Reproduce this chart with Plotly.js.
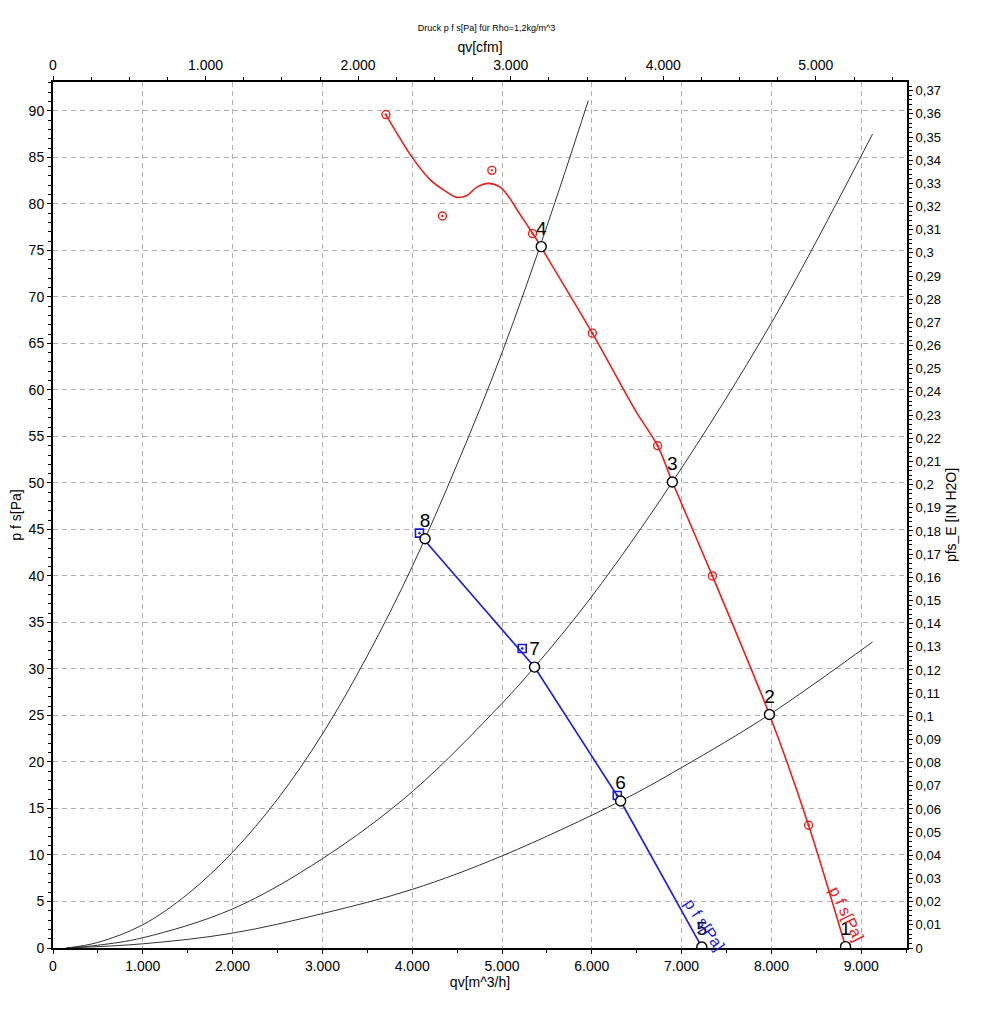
<!DOCTYPE html>
<html>
<head>
<meta charset="utf-8">
<script src="https://cdn.plot.ly/plotly-3.0.1.min.js"></script>
<style>
  body { margin: 0; background: #fff; }
  #chart { width: 983px; height: 1024px; }
</style>
</head>
<body>
<div id="chart"></div>
<script>
// system curves, q in m^3/h, p in Pa
var sysAq = [150, 500, 1000, 1500, 2000, 2500, 3000, 3500, 4000, 4500, 5000, 5500, 5961];
var sysAp = [0, 0.6, 2.5, 5.8, 10.3, 16, 23, 31.4, 41, 52, 64, 77.6, 91.1];
var sysBq = [150, 500, 1000, 2000, 3000, 4000, 5000, 5362, 6000, 6897, 8000, 9126];
var sysBp = [0, 0.3, 1.1, 4.2, 9.6, 16.8, 26.3, 30.2, 37.8, 50.1, 67.2, 87.5];
var sysCq = [150, 1000, 2000, 3000, 4000, 5000, 6321, 7000, 7978, 9126];
var sysCp = [0, 0.45, 1.6, 3.7, 6.3, 9.9, 15.8, 19.4, 25.1, 32.9];

// red fan curve p f s
var redQ = [3706, 3996, 4199, 4348, 4497, 4609, 4720, 4850, 4980, 5073, 5185, 5296, 5390, 5500, 6006, 6485, 6733, 6897, 7343, 7978, 8414, 8826];
var redP = [89.6, 85.05, 82.6, 81.5, 80.7, 80.9, 81.8, 82.2, 81.8, 80.8, 79.1, 77.5, 76.1, 74.3, 66.1, 57.8, 54.0, 50.1, 40.0, 25.1, 13.2, 0.15];
var redMq = [3707, 4337, 4887, 5340, 6006, 6733, 7343, 8414];
var redMp = [89.6, 78.7, 83.6, 76.8, 66.1, 54.0, 40.0, 13.2];

// blue fan curve p f s
var blueQ = [4160, 5362, 6321, 7225];
var blueP = [43.6, 30.2, 15.8, 0.1];
var blueMq = [4081, 5225, 6284];
var blueMp = [44.6, 32.2, 16.4];

// operating points
var opQ = [8826, 7978, 6897, 5437, 7225, 6321, 5362, 4143];
var opP = [0.15, 25.1, 50.1, 75.4, 0.1, 15.8, 30.2, 44.0];
var opLabels = ['1', '2', '3', '4', '5', '6', '7', '8'];

var qMax = 9510;       // m^3/h
var pMax = 93.1;       // Pa
var cfmPerM3h = 1 / 1.699;
var inH2O = 249.089;

var font = 'Liberation Sans, Arial, sans-serif';
var gridDash = '5px,4px';

var data = [
  {x: sysAq, y: sysAp, mode: 'lines', line: {color: '#333', width: 1, shape: 'spline'}, hoverinfo: 'skip'},
  {x: sysBq, y: sysBp, mode: 'lines', line: {color: '#333', width: 1, shape: 'spline'}, hoverinfo: 'skip'},
  {x: sysCq, y: sysCp, mode: 'lines', line: {color: '#333', width: 1, shape: 'spline'}, hoverinfo: 'skip'},
  {x: redQ, y: redP, mode: 'lines', line: {color: '#e8201c', width: 1.6, shape: 'spline', smoothing: 0.8}},
  {x: redMq, y: redMp, mode: 'markers', marker: {symbol: 'circle-open-dot', size: 8, color: '#e8201c', line: {width: 1.4}}},
  {x: blueQ, y: blueP, mode: 'lines', line: {color: '#1a1ae0', width: 1.6}},
  {x: blueMq, y: blueMp, mode: 'markers', marker: {symbol: 'square-open-dot', size: 8, color: '#1a1ae0', line: {width: 1.6}}},
  {x: opQ, y: opP, mode: 'markers+text', text: opLabels, textposition: 'top center',
   textfont: {family: font, size: 19, color: '#000'},
   marker: {symbol: 'circle', size: 10, color: '#fff', line: {color: '#000', width: 1.4}}},
  // dummy trace for the secondary axes
  {x: [0], y: [0], xaxis: 'x2', yaxis: 'y2', mode: 'markers', marker: {opacity: 0}, hoverinfo: 'skip'}
];

var layout = {
  width: 983,
  height: 1024,
  showlegend: false,
  separators: ',.',
  paper_bgcolor: '#fff',
  plot_bgcolor: '#fff',
  margin: {l: 53, r: 76, t: 82, b: 76},
  font: {family: font, size: 14, color: '#000'},
  title: {text: 'Druck p f s[Pa] für Rho=1,2kg/m^3', x: 0.495, xanchor: 'center', y: 0.973, yanchor: 'middle',
          font: {size: 9, family: font}},
  xaxis: {
    range: [0, qMax], dtick: 1000, tickformat: ',d',
    showline: true, linecolor: '#000', linewidth: 2,
    ticks: 'outside', ticklen: 4, tickcolor: '#000',
    minor: {dtick: 500, ticks: 'outside', ticklen: 3, tickcolor: '#000', showgrid: false},
    showgrid: true, gridcolor: '#b0b0b0', griddash: gridDash, gridwidth: 1,
    zeroline: false,
    tickfont: {size: 14},
    title: {text: 'qv[m^3/h]', font: {size: 14}, standoff: 4}
  },
  xaxis2: {
    overlaying: 'x', side: 'top', anchor: 'y',
    range: [0, qMax * cfmPerM3h], dtick: 1000, tickformat: ',d',
    showline: true, linecolor: '#000', linewidth: 2,
    ticks: 'outside', ticklen: 4, tickcolor: '#000',
    minor: {dtick: 250, ticks: 'outside', ticklen: 3, tickcolor: '#000', showgrid: false},
    showgrid: false, zeroline: false,
    tickfont: {size: 14},
    title: {text: 'qv[cfm]', font: {size: 14}, standoff: 2}
  },
  yaxis: {
    range: [0, pMax], dtick: 5,
    showline: true, linecolor: '#000', linewidth: 2,
    ticks: 'outside', ticklen: 4, tickcolor: '#000',
    minor: {dtick: 1, ticks: 'outside', ticklen: 3, tickcolor: '#000', showgrid: false},
    showgrid: true, gridcolor: '#b0b0b0', griddash: gridDash, gridwidth: 1,
    zeroline: false,
    tickfont: {size: 14},
    title: {text: 'p f s[Pa]', font: {size: 14}, standoff: 4}
  },
  yaxis2: {
    overlaying: 'y', side: 'right', anchor: 'x',
    range: [0, pMax / inH2O], dtick: 0.01,
    showline: true, linecolor: '#000', linewidth: 2,
    ticks: 'outside', ticklen: 4, tickcolor: '#000',
    minor: {dtick: 0.002, ticks: 'outside', ticklen: 3, tickcolor: '#000', showgrid: false},
    showgrid: false, zeroline: false,
    tickfont: {size: 13},
    title: {text: 'pfs_E [IN H2O]', font: {size: 14}, standoff: 6}
  },
  annotations: [
    {x: 8840, y: 3.6, xref: 'x', yref: 'y', text: 'p f s[Pa]', showarrow: false, textangle: 64,
     font: {family: font, size: 16, color: '#e8201c'}},
    {x: 7250, y: 2.5, xref: 'x', yref: 'y', text: 'p f s[Pa]', showarrow: false, textangle: 56,
     font: {family: font, size: 16, color: '#1a1ae0'}}
  ]
};

Plotly.newPlot('chart', data, layout, {displayModeBar: false, staticPlot: true});
</script>
</body>
</html>
